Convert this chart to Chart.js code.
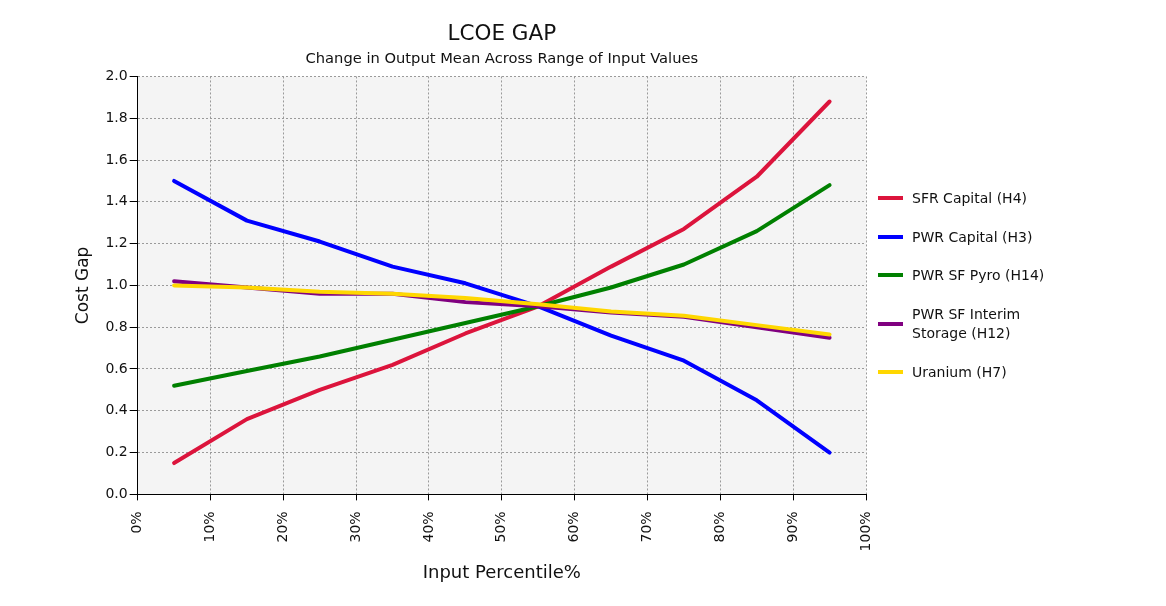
<!DOCTYPE html>
<html lang="en">
<head>
    <meta charset="UTF-8">
    <script src="https://cdn.jsdelivr.net/npm/chart.js@4.4.1/dist/chart.umd.min.js"></script>
    <title>LCOE GAP</title>
    <style>
        body { margin: 0; background: #ffffff; }
        #wrap { position: relative; width: 1166px; height: 606px; }
        #legend { position: absolute; left: 878px; top: 0; font-family: 'DejaVu Sans', sans-serif; font-size: 14px; color: #111; }
        .item { position: absolute; left: 0; display: flex; align-items: center; white-space: nowrap; }
        .item span.swatch { display: inline-block; width: 25px; height: 4px; margin-right: 9px; }
        .item span.txt { line-height: 19px; }
    </style>
</head>
<body>
<div id="wrap">
    <canvas id="gapChart" width="1166" height="606"></canvas>
    <div id="legend"></div>
</div>

<script>
    // percentile midpoints (x) and series values
    const percentiles = [5, 15, 25, 35, 45, 55, 65, 75, 85, 95];
    const sfrCapital   = [0.15, 0.36, 0.50, 0.62, 0.77, 0.90, 1.09, 1.27, 1.52, 1.88];
    const pwrCapital   = [1.50, 1.31, 1.21, 1.09, 1.01, 0.90, 0.76, 0.64, 0.45, 0.20];
    const pwrPyro      = [0.52, 0.59, 0.66, 0.74, 0.82, 0.90, 0.99, 1.10, 1.26, 1.48];
    const pwrInterim   = [1.02, 0.99, 0.96, 0.96, 0.92, 0.90, 0.87, 0.85, 0.80, 0.75];
    const uranium      = [1.00, 0.99, 0.97, 0.96, 0.94, 0.91, 0.875, 0.855, 0.81, 0.765];

    const seriesNames = ['SFR Capital (H4)', 'PWR Capital (H3)', 'PWR SF Pyro (H14)', 'PWR SF Interim\nStorage (H12)', 'Uranium (H7)'];
    const seriesData = [sfrCapital, pwrCapital, pwrPyro, pwrInterim, uranium];
    const seriesColors = ['#dc143c', '#0000ff', '#008000', '#800080', '#ffd700'];
    const legendY = [198, 237, 275, 324, 372];

    const plotBg = {
        id: 'plotBg',
        beforeDraw(chart) {
            const a = chart.chartArea;
            const ctx = chart.ctx;
            ctx.save();
            ctx.fillStyle = '#f4f4f4';
            ctx.fillRect(a.left, a.top, a.right - a.left, a.bottom - a.top);
            ctx.restore();
        }
    };

    const datasets = seriesData.map((vals, i) => ({
        label: seriesNames[i].replace('\n', ' '),
        data: vals.map((v, j) => ({ x: percentiles[j], y: v })),
        borderColor: seriesColors[i],
        backgroundColor: seriesColors[i],
        borderWidth: 4,
        pointRadius: 0,
        borderCapStyle: 'round',
        borderJoinStyle: 'round',
        tension: 0,
        fill: false,
        order: seriesData.length - i
    }));

    const font = 'DejaVu Sans';
    const gridGrey = '#9a9a9a';

    new Chart(document.getElementById('gapChart'), {
        type: 'line',
        data: { datasets: datasets },
        options: {
            responsive: false,
            animation: false,
            layout: { padding: { top: 10, left: 73, right: 300, bottom: 18 } },
            plugins: {
                legend: { display: false },
                tooltip: { enabled: false },
                title: {
                    display: true,
                    text: 'LCOE GAP',
                    fullSize: false,
                    color: '#111',
                    font: { family: font, size: 21.5, weight: 'normal' },
                    padding: { top: 12, bottom: 2 }
                },
                subtitle: {
                    display: true,
                    text: 'Change in Output Mean Across Range of Input Values',
                    fullSize: false,
                    color: '#111',
                    font: { family: font, size: 14.7 },
                    padding: { top: 1, bottom: 8 }
                }
            },
            scales: {
                x: {
                    type: 'linear',
                    min: 0,
                    max: 100,
                    ticks: {
                        stepSize: 10,
                        maxRotation: 90,
                        minRotation: 90,
                        padding: 11,
                        color: '#111',
                        font: { family: font, size: 14 },
                        callback: v => v + '%'
                    },
                    grid: { color: gridGrey, lineWidth: 1, tickLength: 6, tickColor: '#000' },
                    border: { color: '#000', width: 1, dash: [2, 2] },
                    title: {
                        display: true,
                        text: 'Input Percentile%',
                        color: '#111',
                        font: { family: font, size: 18 },
                        padding: { top: 0, bottom: 4 }
                    }
                },
                y: {
                    min: 0,
                    max: 2,
                    ticks: {
                        stepSize: 0.2,
                        padding: 2,
                        color: '#111',
                        font: { family: font, size: 14 },
                        callback: v => v.toFixed(1)
                    },
                    grid: { color: gridGrey, lineWidth: 1, tickLength: 8, tickColor: '#000' },
                    border: { color: '#000', width: 1, dash: [2, 2] },
                    title: {
                        display: true,
                        text: 'Cost Gap',
                        color: '#111',
                        font: { family: font, size: 17 },
                        padding: { top: 0, bottom: 10 }
                    }
                }
            }
        },
        plugins: [plotBg]
    });

    // legend on the right, drawn as html so the two-line label wraps like the original
    const legend = document.getElementById('legend');
    seriesNames.forEach((name, i) => {
        const item = document.createElement('div');
        item.className = 'item';
        const sw = document.createElement('span');
        sw.className = 'swatch';
        sw.style.background = seriesColors[i];
        const txt = document.createElement('span');
        txt.className = 'txt';
        txt.innerHTML = name.replace('\n', '<br>');
        item.appendChild(sw);
        item.appendChild(txt);
        const lines = name.split('\n').length;
        item.style.top = (legendY[i] - lines * 19 / 2) + 'px';
        legend.appendChild(item);
    });
</script>
</body>
</html>
